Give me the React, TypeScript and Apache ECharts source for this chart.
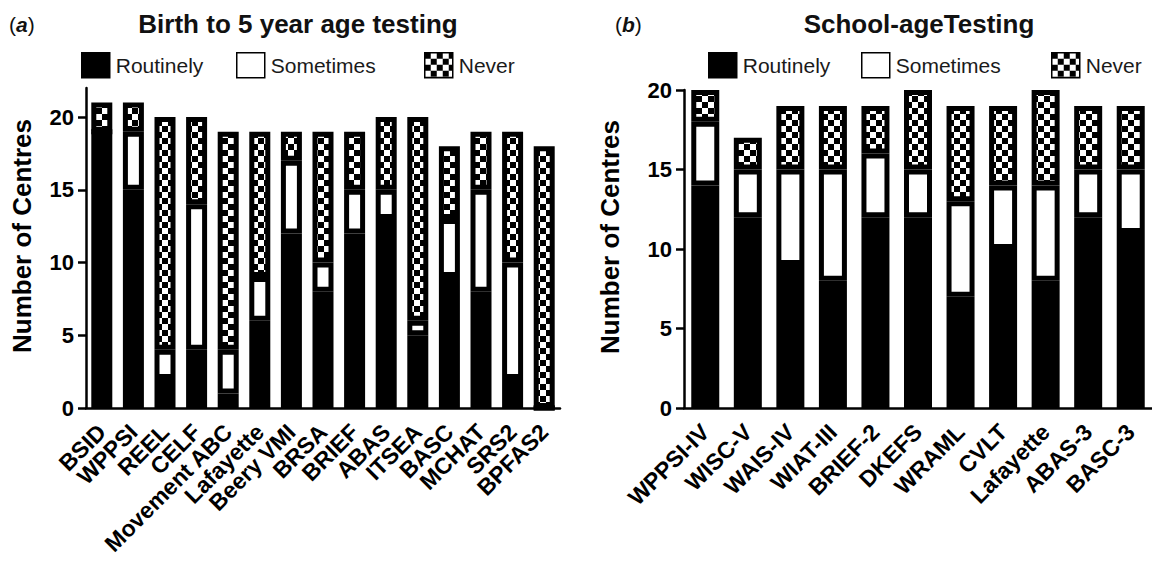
import React, { useEffect, useRef } from "react";
import * as echarts from "echarts";

const leftCategories = ["BSID", "WPPSI", "REEL", "CELF", "Movement ABC", "Lafayette", "Beery VMI", "BRSA", "BRIEF", "ABAS", "ITSEA", "BASC", "MCHAT", "SRS2", "BPFAS2"];
const leftRoutinely = [19, 15, 2, 4, 1, 6, 12, 8, 12, 13, 5, 9, 8, 2, 0];
const leftSometimes = [0, 4, 2, 10, 3, 3, 5, 2, 3, 2, 1, 4, 7, 8, 0];
const leftNever = [2, 2, 16, 6, 15, 10, 2, 9, 4, 5, 14, 5, 4, 9, 18];

const rightCategories = ["WPPSI-IV", "WISC-V", "WAIS-IV", "WIAT-III", "BRIEF-2", "DKEFS", "WRAML", "CVLT", "Lafayette", "ABAS-3", "BASC-3"];
const rightRoutinely = [14, 12, 9, 8, 12, 12, 7, 10, 8, 12, 11];
const rightSometimes = [4, 3, 6, 7, 4, 3, 6, 4, 6, 3, 4];
const rightNever = [2, 2, 4, 4, 3, 5, 6, 5, 6, 4, 4];

const yTicks = [0, 5, 10, 15, 20];
const leftTitle = "Birth to 5 year age testing";
const rightTitle = "School-ageTesting";
const yName = "Number of Centres";

const FONT = "Liberation Sans, Arial, Helvetica, sans-serif";

function makeChecker(cell: number) {
  const c = document.createElement("canvas");
  c.width = cell * 2;
  c.height = cell * 2;
  const ctx = c.getContext("2d")!;
  ctx.fillStyle = "#ffffff";
  ctx.fillRect(0, 0, cell * 2, cell * 2);
  ctx.fillStyle = "#000000";
  ctx.fillRect(0, 0, cell, cell);
  ctx.fillRect(cell, cell, cell, cell);
  return { image: c, repeat: "repeat", imageWidth: cell * 2, imageHeight: cell * 2 } as any;
}

export default function App() {
  const ref = useRef<HTMLDivElement>(null);
  useEffect(() => {
    if (!ref.current) return;
    const chart = echarts.init(ref.current, null, { renderer: "svg" });
    const checker = makeChecker(6);

    const axisLineStyle = { color: "#000", width: 2.5 };
    const xAxisBase = (idx: number, cats: string[]) => ({
      type: "category",
      gridIndex: idx,
      data: cats,
      axisLine: { lineStyle: axisLineStyle },
      axisTick: { alignWithLabel: true, length: 8, lineStyle: { color: "#000", width: 2.5 } },
      axisLabel: {
        interval: 0,
        rotate: 45,
        margin: 20,
        color: "#000",
        fontFamily: FONT,
        fontWeight: "bold",
        fontSize: 23,
      },
    });
    const yAxisBase = (idx: number, max: number) => ({
      type: "value",
      gridIndex: idx,
      min: 0,
      max,
      interval: 5,
      splitLine: { show: false },
      axisLine: { show: true, lineStyle: axisLineStyle },
      axisTick: { show: true, length: 8, lineStyle: { color: "#000", width: 2.5 }, customValues: yTicks },
      axisLabel: { color: "#000", fontFamily: FONT, fontWeight: "bold", fontSize: 22, margin: 12, customValues: yTicks },
    });

    const mkSeries = (name: string, data: number[], idx: number, color: any, width: number) => ({
      name,
      type: "bar",
      stack: idx === 0 ? "left" : "right",
      xAxisIndex: idx,
      yAxisIndex: idx,
      data,
      barWidth: width,
      itemStyle: { color, borderColor: "#000", borderWidth: 5 },
      emphasis: { disabled: true },
    });

    const legend = (name: string, left: number) => ({
      data: [name],
      left,
      top: 52,
      padding: 0,
      itemWidth: 28,
      itemHeight: 25,
      itemGap: 0,
      icon: "rect",
      selectedMode: false,
      itemStyle: { borderColor: "#000", borderWidth: 1.5 },
      textStyle: { color: "#1a1a1a", fontFamily: FONT, fontSize: 21, padding: [0, 0, 0, 1] },
    });

    const yNameText = (x: number, y: number) => ({
      type: "text",
      x,
      y,
      rotation: Math.PI / 2,
      style: { text: yName, fontFamily: FONT, fontWeight: "bold", fontSize: 26, fill: "#000", align: "center", verticalAlign: "middle" },
    });

    const panelLabel = (x: number, letter: string) => ({
      type: "text",
      x,
      y: 24,
      style: {
        text: "({l|" + letter + "})",
        fontFamily: FONT,
        fontSize: 21,
        fill: "#111",
        align: "left",
        verticalAlign: "middle",
        rich: { l: { fontFamily: FONT, fontSize: 21, fontStyle: "italic", fontWeight: "bold", fill: "#111" } },
      },
    });

    chart.setOption({
      animation: false,
      backgroundColor: "#fff",
      grid: [
        { left: 86, top: 88, width: 474, height: 320 },
        { left: 684, top: 90, width: 474, height: 318 },
      ],
      xAxis: [xAxisBase(0, leftCategories), xAxisBase(1, rightCategories)],
      yAxis: [yAxisBase(0, 22), yAxisBase(1, 20)],
      legend: [
        legend("Routinely", 81),
        legend("Sometimes", 236),
        legend("Never", 424),
        legend("Routinely", 708),
        legend("Sometimes", 861),
        legend("Never", 1051),
      ],
      series: [
        mkSeries("Routinely", leftRoutinely, 0, "#000", 21),
        mkSeries("Sometimes", leftSometimes, 0, "#fff", 21),
        mkSeries("Never", leftNever, 0, checker, 21),
        mkSeries("Routinely", rightRoutinely, 1, "#000", 28),
        mkSeries("Sometimes", rightSometimes, 1, "#fff", 28),
        mkSeries("Never", rightNever, 1, checker, 28),
      ],
      graphic: [
        {
          type: "text",
          x: 298,
          y: 24,
          style: { text: leftTitle, fontFamily: FONT, fontWeight: "bold", fontSize: 26, fill: "#111", align: "center", verticalAlign: "middle" },
        },
        {
          type: "text",
          x: 919,
          y: 24,
          style: { text: rightTitle, fontFamily: FONT, fontWeight: "bold", fontSize: 26, fill: "#111", align: "center", verticalAlign: "middle" },
        },
        panelLabel(9, "a"),
        panelLabel(615, "b"),
        yNameText(22, 236),
        yNameText(610, 237),
      ],
    });
    return () => chart.dispose();
  }, []);
  return <div ref={ref} style={{ position: "absolute", left: 0, top: 0, width: 1152, height: 563 }} />;
}
